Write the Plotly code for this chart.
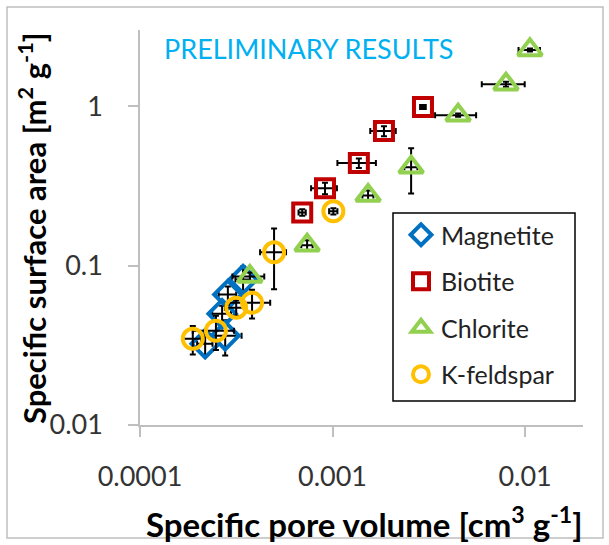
import plotly.graph_objects as go

# ---------------- data ----------------
series_names = ["Magnetite", "Biotite", "Chlorite", "K-feldspar"]

mag_x = [0.000343, 0.000286, 0.000267, 0.000277, 0.000218]
mag_y = [0.0817, 0.0658, 0.0499, 0.0363, 0.0323]
mag_ex = [0.00003, 0.00003, 0.00003, 0.00006, 0.00002]
mag_ey = [0.017, 0.008, 0.006, 0.009, 0.005]

bio_x = [0.00295, 0.00185, 0.00137, 0.000914, 0.000696]
bio_y = [0.987, 0.697, 0.439, 0.305, 0.215]
bio_ex = [0.0001, 0.00028, 0.00031, 0.00014, 0.00003]
bio_ey = [0.03, 0.05, 0.03, 0.025, 0.01]

chl_x = [0.0106, 0.00796, 0.00449, 0.00256, 0.00153, 0.000738, 0.000372]
chl_y = [2.25, 1.37, 0.877, 0.413, 0.275, 0.134, 0.0853]
chl_ex = [0.00135, 0.0020, 0.00108, 0.0002, 0.0001, 0.00005, 0.00007]
chl_ey = [0.05, 0.05, 0.02, 0.13, 0.02, 0.01, 0.005]

kfs_x = [0.00101, 0.000497, 0.000382, 0.000316, 0.000248, 0.000188]
kfs_y = [0.219, 0.121, 0.0585, 0.0544, 0.039, 0.0347]
kfs_ex = [0.00005, 0.0000766, 0.0000925, 0.00004, 0.00006, 0.00002]
kfs_ey = [0.01, 0.050, 0.012, 0.006, 0.0095, 0.007]

x_tick_vals = [0.0001, 0.001, 0.01]
x_tick_text = ["0.0001", "0.001", "0.01"]
y_tick_vals = [0.01, 0.1, 1]
y_tick_text = ["0.01", "0.1", "1"]

# ---------------- styling ----------------
FONT = "Lato, 'Open Sans', sans-serif"
colors = ["#0070C0", "#C00000", "#92D050", "#FFC000"]
symbols = ["diamond-open", "square-open", "triangle-up-open", "circle-open"]
sizes = [21, 18, 21, 20]

data = [
    (mag_x, mag_y, mag_ex, mag_ey),
    (bio_x, bio_y, bio_ex, bio_ey),
    (chl_x, chl_y, chl_ex, chl_ey),
    (kfs_x, kfs_y, kfs_ex, kfs_ey),
]

fig = go.Figure()
for i, (xs, ys, exs, eys) in enumerate(data):
    fig.add_trace(go.Scatter(
        x=xs, y=ys, mode="markers", name=series_names[i],
        legendgroup=series_names[i],
        marker=dict(symbol=symbols[i], size=sizes[i], color=colors[i],
                    line=dict(width=4, color=colors[i])),
        error_x=dict(type="data", array=exs, color="black", thickness=2, width=3),
        error_y=dict(type="data", array=eys, color="black", thickness=2, width=3),
    ))

W, H = 609, 545
L, R, T, B = 140, 26, 30, 120
pw, ph = W - L - R, H - T - B


def px2paper(px, py):
    return (px - L) / pw, (H - B - py) / ph


lgx, lgy = px2paper(401, 212)
fig.update_layout(
    width=W, height=H,
    margin=dict(l=L, r=R, t=T, b=B),
    paper_bgcolor="white", plot_bgcolor="white",
    font=dict(family=FONT, color="#333333"),
    showlegend=True,
    legend=dict(
        x=lgx, y=lgy,
        xanchor="left", yanchor="top",
        borderwidth=0, bgcolor="rgba(0,0,0,0)",
        font=dict(family=FONT, size=25, color="#222222"),
        tracegroupgap=11,
        itemwidth=30,
    ),
)

fig.update_xaxes(
    type="log", range=[-4, -1.699],
    tickvals=x_tick_vals, ticktext=x_tick_text,
    showgrid=False, zeroline=False,
    showline=True, linecolor="#BFBFBF", linewidth=1.5,
    ticks="outside", ticklen=10, tickcolor="#BFBFBF", tickwidth=1.5,
    tickfont=dict(family=FONT, size=27, color="#333333"),
    ticklabelstandoff=17,
)
fig.update_yaxes(
    type="log", range=[-2, 0.477],
    tickvals=y_tick_vals, ticktext=y_tick_text,
    showgrid=False, zeroline=False,
    showline=True, linecolor="#BFBFBF", linewidth=1.5,
    ticks="outside", ticklen=10, tickcolor="#BFBFBF", tickwidth=1.5,
    tickfont=dict(family=FONT, size=27, color="#333333"),
    ticklabelstandoff=20,
)

tx, ty = px2paper(162, 48)
xtx, xty = px2paper(364, 522)
ytx, yty = px2paper(32, 229)
fig.add_annotation(x=tx, y=ty, xref="paper", yref="paper", xanchor="left", yanchor="middle",
                   text="PRELIMINARY RESULTS", showarrow=False,
                   font=dict(family=FONT, size=27, color="#00B0F0"))
fig.add_annotation(x=xtx, y=xty, xref="paper", yref="paper", xanchor="center", yanchor="middle",
                   text="<b>Specific pore volume [cm<sup>3</sup> g<sup>-1</sup>]</b>", showarrow=False,
                   font=dict(family=FONT, size=33, color="black"))
fig.add_annotation(x=ytx, y=yty, xref="paper", yref="paper", xanchor="center", yanchor="middle",
                   textangle=-90,
                   text="<b>Specific surface area [m<sup>2</sup> g<sup>-1</sup>]</b>", showarrow=False,
                   font=dict(family=FONT, size=31, color="black"))

# legend frame
lx0, ly0 = px2paper(393, 401)
lx1, ly1 = px2paper(575, 213)
fig.add_shape(type="rect", xref="paper", yref="paper", x0=lx0, y0=ly0, x1=lx1, y1=ly1,
              line=dict(color="black", width=1.5), fillcolor="rgba(0,0,0,0)", layer="above")

# outer chart frame
bx0, by0 = px2paper(7, 538)
bx1, by1 = px2paper(603, 7)
fig.add_shape(type="rect", xref="paper", yref="paper", x0=bx0, y0=by0, x1=bx1, y1=by1,
              line=dict(color="#BFBFBF", width=1.5), fillcolor="rgba(0,0,0,0)", layer="below")

fig.write_html("out.html")
